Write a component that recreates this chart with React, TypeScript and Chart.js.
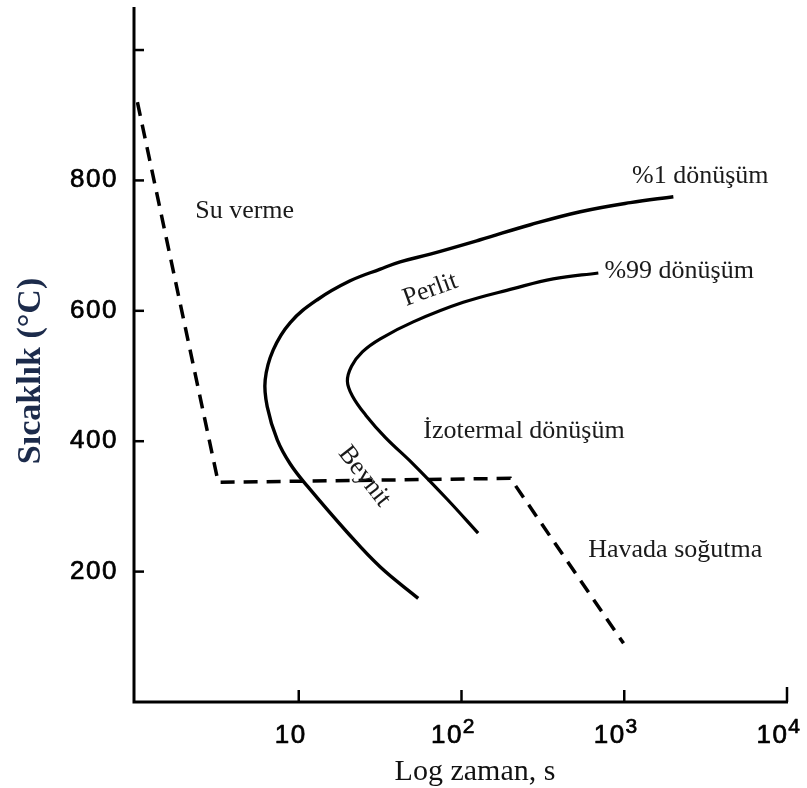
import React, { useEffect, useRef } from "react";
import { Chart, registerables } from "chart.js";

Chart.register(...registerables);

// ---- data ----
const xTickValues = [10, 100, 1000, 10000];
const xTickExponents = ["", "2", "3", "4"];
const yTickValues = [200, 400, 600, 800, 1000];
const yTickLabels = ["200", "400", "600", "800", ""];

// water quench + air cooling path (dashed)
const coolingTime = [1.02, 3.2, 200, 990];
const coolingTemp = [920, 337, 343, 90];

// %1 transformation curve
const start1Time = [2003, 1089, 537, 265, 130.4, 64.3, 42.0, 31.7, 20.7, 13.0, 8.87, 6.97, 6.22, 6.4, 7.38, 8.87, 11.3, 19.9, 31.7, 54.2];
const start1Temp = [775, 766, 752, 732, 709, 687, 675, 664, 646, 617, 582, 540, 494, 453, 402, 365, 331, 260, 207, 159];

// %99 transformation curve
const end99Time = [693, 366, 208, 102.5, 50.5, 31.7, 24.6, 21.1, 19.9, 21.4, 25.8, 34.0, 50.5, 81.7, 126.5];
const end99Temp = [658, 649, 634, 613, 583, 557, 537, 515, 492, 469, 440, 406, 365, 311, 259];

// annotation labels
const labelTexts = ["Su verme", "%1 dönüşüm", "%99 dönüşüm", "İzotermal dönüşüm", "Havada soğutma", "Perlit", "Beynit"];
const labelTimes = [2.31, 1117, 755, 58.2, 601, 64.3, 25.3];
const labelTemps = [742, 796, 650, 405, 222, 632, 346];
const labelAngles = [0, 0, 0, 0, 0, -20, 52];

const xTitle = "Log zaman, s";
const yTitle = "Sıcaklık (°C)";

const toPoints = (xs: number[], ys: number[]) => xs.map((x, i) => ({ x, y: ys[i] }));

const SANS = "'Liberation Sans', Arial, sans-serif";
const SERIF = "'Liberation Serif', 'Times New Roman', serif";

const overlayPlugin = {
  id: "overlay",
  afterDraw(chart: any) {
    const ctx: CanvasRenderingContext2D = chart.ctx;
    const xs = chart.scales.x;
    const ys = chart.scales.y;
    const area = chart.chartArea;
    const axisX = area.left - 2;
    const axisY = area.bottom;
    ctx.save();
    ctx.strokeStyle = "#000";
    ctx.fillStyle = "#000";
    ctx.lineWidth = 3;
    ctx.lineCap = "butt";
    // axes
    ctx.beginPath();
    ctx.moveTo(axisX, area.top);
    ctx.lineTo(axisX, axisY + 1.5);
    ctx.moveTo(axisX - 1.5, axisY);
    ctx.lineTo(area.right + 1, axisY);
    ctx.stroke();
    // y ticks (inward)
    ctx.lineWidth = 2.5;
    yTickValues.forEach((v) => {
      const py = ys.getPixelForValue(v);
      ctx.beginPath();
      ctx.moveTo(axisX, py);
      ctx.lineTo(axisX + 10, py);
      ctx.stroke();
    });
    // x ticks (inward)
    xTickValues.forEach((v, i) => {
      const px = xs.getPixelForValue(v);
      ctx.beginPath();
      ctx.moveTo(px, axisY);
      ctx.lineTo(px, axisY - (i === xTickValues.length - 1 ? 15 : 12));
      ctx.stroke();
    });
    // tick labels (slightly heavier, like the scanned original)
    ctx.lineWidth = 0.7;
    ctx.lineJoin = "round";
    ctx.font = "26px " + SANS;
    (ctx as any).letterSpacing = "1.5px";
    ctx.textAlign = "right";
    ctx.textBaseline = "alphabetic";
    yTickValues.forEach((v, i) => {
      if (!yTickLabels[i]) return;
      const py = ys.getPixelForValue(v);
      ctx.fillText(yTickLabels[i], axisX - 16, py + 7);
      ctx.strokeText(yTickLabels[i], axisX - 16, py + 7);
    });
    ctx.textAlign = "left";
    xTickValues.forEach((v, i) => {
      const px = xs.getPixelForValue(v);
      ctx.font = "26px " + SANS;
      const baseW = ctx.measureText("10").width;
      ctx.font = "21px " + SANS;
      const expW = xTickExponents[i] ? ctx.measureText(xTickExponents[i]).width : 0;
      const total = baseW + expW;
      const left = px - 8 - total / 2;
      ctx.font = "26px " + SANS;
      ctx.fillText("10", left, axisY + 41);
      ctx.strokeText("10", left, axisY + 41);
      if (xTickExponents[i]) {
        ctx.font = "21px " + SANS;
        ctx.fillText(xTickExponents[i], left + baseW, axisY + 31);
        ctx.strokeText(xTickExponents[i], left + baseW, axisY + 31);
      }
    });
    (ctx as any).letterSpacing = "0px";
    // x title
    ctx.font = "30px " + SERIF;
    ctx.textAlign = "center";
    ctx.fillStyle = "#111";
    ctx.fillText(xTitle, 475, axisY + 78);
    // y title
    ctx.save();
    ctx.translate(40, 371);
    ctx.rotate(-Math.PI / 2);
    ctx.font = "bold 34px " + SERIF;
    ctx.fillStyle = "#1c2b4b";
    ctx.textAlign = "center";
    ctx.fillText(yTitle, 0, 0);
    ctx.restore();
    // annotations
    ctx.fillStyle = "#1a1a1a";
    ctx.font = "26px " + SERIF;
    labelTexts.forEach((t, i) => {
      const px = xs.getPixelForValue(labelTimes[i]);
      const py = ys.getPixelForValue(labelTemps[i]);
      ctx.save();
      ctx.translate(px, py);
      if (labelAngles[i] !== 0) {
        ctx.rotate((labelAngles[i] * Math.PI) / 180);
        ctx.textAlign = "center";
        ctx.textBaseline = "middle";
      } else {
        ctx.textAlign = "left";
        ctx.textBaseline = "alphabetic";
      }
      ctx.fillText(t, 0, 0);
      ctx.restore();
    });
    ctx.restore();
  },
};

export default function App() {
  const ref = useRef<HTMLCanvasElement | null>(null);
  useEffect(() => {
    document.body.style.margin = "0";
    if (!ref.current) return;
    const chart = new Chart(ref.current, {
      type: "scatter",
      data: {
        datasets: [
          {
            label: "Soğutma",
            data: toPoints(coolingTime, coolingTemp),
            showLine: true,
            borderColor: "#000",
            borderWidth: 3.5,
            borderDash: [14, 9],
            pointRadius: 0,
            tension: 0,
          },
          {
            label: "%1 dönüşüm",
            data: toPoints(start1Time, start1Temp),
            showLine: true,
            borderColor: "#000",
            borderWidth: 3.4,
            pointRadius: 0,
            tension: 0.4,
          },
          {
            label: "%99 dönüşüm",
            data: toPoints(end99Time, end99Temp),
            showLine: true,
            borderColor: "#000",
            borderWidth: 3.2,
            pointRadius: 0,
            tension: 0.4,
          },
        ],
      },
      options: {
        responsive: false,
        animation: false,
        devicePixelRatio: 1,
        layout: { padding: { left: 136, right: 20, top: 7, bottom: 86 } },
        plugins: { legend: { display: false }, tooltip: { enabled: false } },
        scales: {
          x: { type: "logarithmic", min: 1, max: 10000, display: false },
          y: { type: "linear", min: 0, max: 1066, display: false },
        },
      },
      plugins: [overlayPlugin],
    });
    return () => chart.destroy();
  }, []);
  return (
    <canvas ref={ref} width={807} height={788} style={{ display: "block", background: "#fff" }} />
  );
}
